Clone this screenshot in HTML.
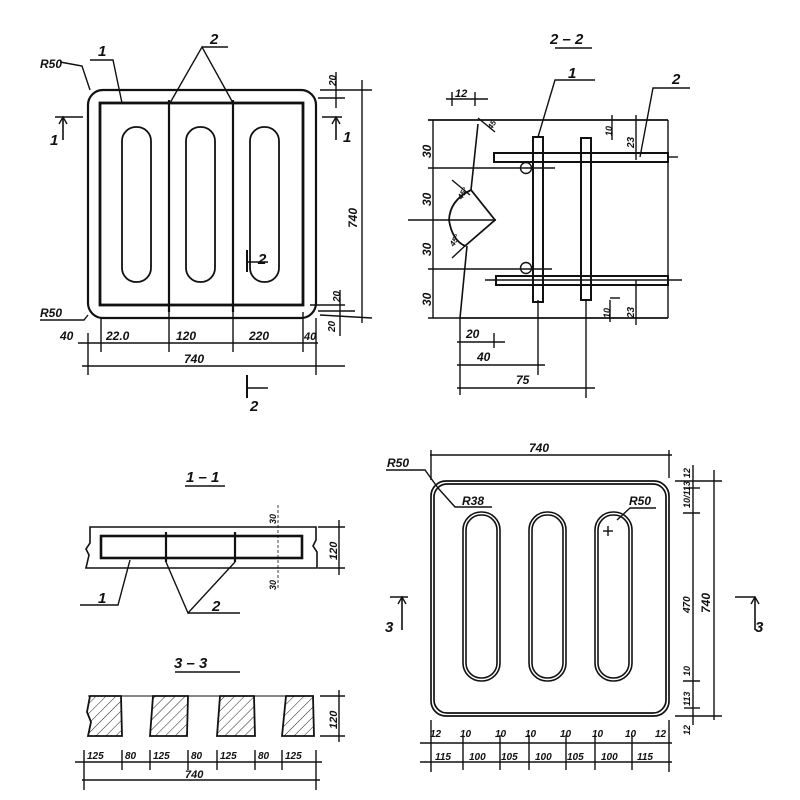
<!DOCTYPE html>
<html><head><meta charset="utf-8"><style>
html,body{margin:0;padding:0;background:#fff;}
svg{display:block}
text{font-family:"Liberation Sans",sans-serif;font-style:italic;font-weight:bold;fill:#111;}
</style></head><body>
<svg width="800" height="800" viewBox="0 0 800 800" xmlns="http://www.w3.org/2000/svg">
<defs>
<pattern id="h" width="7" height="7" patternUnits="userSpaceOnUse" patternTransform="rotate(45)">
<line x1="0" y1="0" x2="0" y2="7" stroke="#222" stroke-width="1"/>
</pattern>
</defs>
<g stroke="#111" fill="none" stroke-width="1.4">
<!-- ===== Top-left plan ===== -->
<rect x="88" y="90" width="228" height="228" rx="15" stroke-width="2.2"/>
<rect x="100" y="103" width="203" height="202" stroke-width="2.8"/>
<line x1="169" y1="100" x2="169" y2="312" stroke-width="2.2"/>
<line x1="233" y1="100" x2="233" y2="312" stroke-width="2.2"/>
<rect x="122" y="127" width="29" height="155" rx="14" stroke-width="1.8"/>
<rect x="186" y="127" width="29" height="155" rx="14" stroke-width="1.8"/>
<rect x="250" y="127" width="29" height="155" rx="14" stroke-width="1.8"/>
<polyline points="60,62 82,66 90,90"/>
<polyline points="90,60 113,60 122,103"/>
<polyline points="170,103 202,47 233,103"/>
<line x1="202" y1="47" x2="228" y2="47"/>
<polyline points="40,320 84,320 88,315"/>
<line x1="55" y1="117" x2="83" y2="117" stroke-width="1.6"/>
<line x1="63" y1="117" x2="63" y2="140" stroke-width="1.6"/>
<polyline points="59,124 63,117 67,124"/>
<line x1="322" y1="117" x2="342" y2="117" stroke-width="1.6"/>
<line x1="336" y1="117" x2="336" y2="140" stroke-width="1.6"/>
<polyline points="332,124 336,117 340,124"/>
<line x1="247" y1="250" x2="247" y2="272" stroke-width="2"/>
<line x1="247" y1="262" x2="268" y2="262"/>
<line x1="247" y1="375" x2="247" y2="398" stroke-width="2"/>
<line x1="247" y1="388" x2="268" y2="388"/>
<line x1="362" y1="80" x2="362" y2="323"/>
<line x1="320" y1="90" x2="372" y2="90"/>
<line x1="318" y1="98" x2="345" y2="98"/>
<line x1="336" y1="72" x2="336" y2="108"/>
<line x1="320" y1="315" x2="372" y2="318"/>
<line x1="310" y1="305" x2="345" y2="305"/>
<line x1="318" y1="311" x2="355" y2="311"/>
<line x1="340" y1="290" x2="340" y2="336"/>
<line x1="78" y1="343" x2="318" y2="343"/>
<line x1="88" y1="333" x2="88" y2="375"/>
<line x1="101" y1="318" x2="101" y2="352"/>
<line x1="169" y1="312" x2="169" y2="352"/>
<line x1="233" y1="312" x2="233" y2="352"/>
<line x1="303" y1="312" x2="303" y2="352"/>
<line x1="316" y1="318" x2="316" y2="375"/>
<line x1="82" y1="366" x2="345" y2="366"/>
<!-- ===== 2-2 section ===== -->
<line x1="555" y1="48" x2="592" y2="48"/>
<line x1="428" y1="120" x2="668" y2="120" stroke-width="1.8"/>
<line x1="460" y1="318" x2="668" y2="318" stroke-width="1.8"/>
<line x1="668" y1="120" x2="668" y2="318"/>
<polyline points="478,124 471,190" stroke-width="1.6"/>
<polyline points="467,246 460,318" stroke-width="1.6"/>
<path d="M471,190 Q450,200 449,220 Q452,240 465,246 L495,220 Z" stroke-width="1.8"/>
<line x1="408" y1="220" x2="496" y2="220"/>
<line x1="452" y1="180" x2="470" y2="195"/>
<line x1="452" y1="258" x2="467" y2="244"/>
<line x1="478" y1="118" x2="495" y2="132"/>
<line x1="446" y1="99" x2="488" y2="99"/>
<line x1="452" y1="92" x2="452" y2="106"/>
<line x1="475" y1="92" x2="475" y2="106"/>
<line x1="433" y1="120" x2="433" y2="318"/>
<line x1="428" y1="168" x2="555" y2="168"/>
<line x1="428" y1="269" x2="552" y2="269"/>
<line x1="428" y1="318" x2="460" y2="318"/>
<rect x="533" y="137" width="10" height="165" stroke-width="2"/>
<rect x="581" y="138" width="10" height="162" stroke-width="2"/>
<rect x="494" y="153" width="174" height="9" stroke-width="2"/>
<rect x="496" y="276" width="172" height="9" stroke-width="2"/>
<line x1="668" y1="157" x2="678" y2="157"/>
<line x1="485" y1="280" x2="682" y2="280"/>
<circle cx="526" cy="168" r="5.5"/>
<circle cx="526" cy="268" r="5.5"/>
<polyline points="538,137 555,80 595,80"/>
<polyline points="640,157 653,88 690,88"/>
<line x1="612" y1="115" x2="612" y2="140"/>
<line x1="636" y1="115" x2="636" y2="160"/>
<line x1="610" y1="298" x2="620" y2="298"/>
<line x1="636" y1="280" x2="636" y2="325"/>
<line x1="610" y1="300" x2="610" y2="322"/>
<line x1="460" y1="318" x2="460" y2="395"/>
<line x1="457" y1="342" x2="505" y2="342"/>
<line x1="494" y1="333" x2="494" y2="348"/>
<line x1="457" y1="365" x2="545" y2="365"/>
<line x1="538" y1="300" x2="538" y2="375"/>
<line x1="457" y1="388" x2="595" y2="388"/>
<line x1="586" y1="300" x2="586" y2="398"/>
<!-- ===== bottom-right plan ===== -->
<rect x="431" y="481" width="238" height="235" rx="15" stroke-width="1.7"/>
<rect x="434" y="484" width="232" height="229" rx="13" stroke-width="1.7"/>
<rect x="463" y="512" width="37" height="169" rx="18" stroke-width="1.6"/>
<rect x="466" y="515" width="31" height="163" rx="15" stroke-width="1.6"/>
<rect x="529" y="512" width="37" height="169" rx="18" stroke-width="1.6"/>
<rect x="532" y="515" width="31" height="163" rx="15" stroke-width="1.6"/>
<rect x="595" y="512" width="37" height="169" rx="18" stroke-width="1.6"/>
<rect x="598" y="515" width="31" height="163" rx="15" stroke-width="1.6"/>
<line x1="608" y1="526" x2="608" y2="536"/><line x1="603" y1="531" x2="613" y2="531"/>
<line x1="430" y1="455" x2="672" y2="455"/>
<line x1="431" y1="450" x2="431" y2="480"/>
<line x1="669" y1="450" x2="669" y2="478"/>
<polyline points="386,470 425,470 438,488"/>
<polyline points="438,488 455,507 492,507"/>
<polyline points="617,520 630,508 656,508"/>
<line x1="675" y1="481" x2="722" y2="481"/>
<line x1="675" y1="716" x2="722" y2="716"/>
<line x1="714" y1="470" x2="714" y2="720"/>
<line x1="693" y1="465" x2="693" y2="725"/>
<line x1="683" y1="513" x2="700" y2="513"/>
<line x1="683" y1="681" x2="700" y2="681"/>
<line x1="684" y1="488" x2="700" y2="488"/>
<line x1="684" y1="708" x2="700" y2="708"/>
<line x1="390" y1="597" x2="408" y2="597" stroke-width="1.6"/>
<line x1="402" y1="597" x2="402" y2="630" stroke-width="1.6"/>
<polyline points="398,604 402,597 406,604"/>
<line x1="735" y1="597" x2="755" y2="597" stroke-width="1.6"/>
<line x1="755" y1="597" x2="755" y2="630" stroke-width="1.6"/>
<polyline points="751,604 755,597 759,604"/>
<line x1="420" y1="743" x2="672" y2="743"/>
<line x1="420" y1="762" x2="672" y2="762"/>
<line x1="431" y1="720" x2="431" y2="772"/>
<line x1="463" y1="735" x2="463" y2="770"/>
<line x1="500" y1="735" x2="500" y2="770"/>
<line x1="529" y1="735" x2="529" y2="770"/>
<line x1="566" y1="735" x2="566" y2="770"/>
<line x1="595" y1="735" x2="595" y2="770"/>
<line x1="632" y1="735" x2="632" y2="770"/>
<line x1="669" y1="720" x2="669" y2="772"/>
<!-- ===== 1-1 ===== -->
<line x1="185" y1="486" x2="225" y2="486"/>
<path d="M90,527 L316,527 L316,540 L313,546 L317,552 L317,568 L86,568 L89,555 L86,549 L90,543 Z" stroke-width="1.6"/>
<rect x="101" y="536" width="201" height="22" stroke-width="2.6"/>
<line x1="166" y1="532" x2="166" y2="562" stroke-width="2.2"/>
<line x1="235" y1="532" x2="235" y2="562" stroke-width="2.2"/>
<polyline points="80,605 118,605 130,560"/>
<polyline points="166,562 188,613 235,562"/>
<line x1="188" y1="613" x2="240" y2="613"/>
<line x1="318" y1="527" x2="345" y2="527"/>
<line x1="318" y1="568" x2="345" y2="568"/>
<line x1="339" y1="520" x2="339" y2="575"/>
<line x1="278" y1="505" x2="278" y2="590" stroke-dasharray="3,2" stroke-width="0.8"/>
<!-- ===== 3-3 ===== -->
<line x1="175" y1="672" x2="240" y2="672"/>
<path d="M90,696 L121,696 L122,736 L88,736 L91,722 L87,712 Z" fill="url(#h)" stroke-width="1.8"/>
<path d="M153,696 L188,696 L187,736 L150,736 Z" fill="url(#h)" stroke-width="1.8"/>
<path d="M220,696 L254,696 L255,736 L217,736 Z" fill="url(#h)" stroke-width="1.8"/>
<path d="M286,696 L313,696 L314,736 L282,736 Z" fill="url(#h)" stroke-width="1.8"/>
<line x1="88" y1="696" x2="314" y2="696" stroke-width="1"/>
<line x1="320" y1="696" x2="345" y2="696"/>
<line x1="320" y1="736" x2="345" y2="736"/>
<line x1="339" y1="690" x2="339" y2="742"/>
<line x1="75" y1="762" x2="322" y2="762"/>
<line x1="82" y1="780" x2="320" y2="780"/>
<line x1="84" y1="750" x2="84" y2="790"/>
<line x1="122" y1="750" x2="122" y2="770"/>
<line x1="150" y1="750" x2="150" y2="770"/>
<line x1="188" y1="750" x2="188" y2="770"/>
<line x1="217" y1="750" x2="217" y2="770"/>
<line x1="255" y1="750" x2="255" y2="770"/>
<line x1="282" y1="750" x2="282" y2="770"/>
<line x1="316" y1="750" x2="316" y2="790"/>
</g>
<!-- ===== text ===== -->
<g font-size="12">
<text x="40" y="68" font-size="12">R50</text>
<text x="98" y="56" font-size="15">1</text>
<text x="210" y="44" font-size="15">2</text>
<text x="40" y="317" font-size="12">R50</text>
<text x="50" y="145" font-size="15">1</text>
<text x="343" y="142" font-size="15">1</text>
<text x="258" y="264" font-size="15">2</text>
<text x="250" y="411" font-size="15">2</text>
<text x="60" y="340" font-size="12">40</text>
<text x="106" y="340" font-size="12">22.0</text>
<text x="176" y="340" font-size="12">120</text>
<text x="249" y="340" font-size="12">220</text>
<text x="304" y="340" font-size="11">40</text>
<text x="184" y="363" font-size="12">740</text>
<text transform="translate(357,228) rotate(-90)" font-size="12">740</text>
<text transform="translate(336,86) rotate(-90)" font-size="10">20</text>
<text transform="translate(340,302) rotate(-90)" font-size="10">20</text>
<text transform="translate(335,332) rotate(-90)" font-size="10">20</text>
<text x="550" y="44" font-size="15">2 – 2</text>
<text x="568" y="78" font-size="15">1</text>
<text x="672" y="84" font-size="15">2</text>
<text x="455" y="97" font-size="11">12</text>
<text transform="translate(431,158) rotate(-90)" font-size="12">30</text>
<text transform="translate(431,206) rotate(-90)" font-size="12">30</text>
<text transform="translate(431,256) rotate(-90)" font-size="12">30</text>
<text transform="translate(431,306) rotate(-90)" font-size="12">30</text>
<text transform="translate(462,200) rotate(-60)" font-size="8">45°</text>
<text transform="translate(454,247) rotate(-60)" font-size="8">45°</text>
<text transform="translate(492,130) rotate(-60)" font-size="8">45</text>
<text transform="translate(612,136) rotate(-90)" font-size="9">10</text>
<text transform="translate(634,148) rotate(-90)" font-size="10">23</text>
<text transform="translate(610,318) rotate(-90)" font-size="9">10</text>
<text transform="translate(634,318) rotate(-90)" font-size="10">23</text>
<text x="466" y="338" font-size="12">20</text>
<text x="477" y="361" font-size="12">40</text>
<text x="516" y="384" font-size="12">75</text>
<text x="529" y="452" font-size="12">740</text>
<text x="387" y="467" font-size="12">R50</text>
<text x="462" y="505" font-size="12">R38</text>
<text x="629" y="505" font-size="12">R50</text>
<text x="385" y="632" font-size="15">3</text>
<text x="755" y="632" font-size="15">3</text>
<text transform="translate(690,478) rotate(-90)" font-size="9">12</text>
<text transform="translate(690,508) rotate(-90)" font-size="9">10/113</text>
<text transform="translate(690,613) rotate(-90)" font-size="10">470</text>
<text transform="translate(710,613) rotate(-90)" font-size="12">740</text>
<text transform="translate(690,676) rotate(-90)" font-size="9">10</text>
<text transform="translate(690,706) rotate(-90)" font-size="9">113</text>
<text transform="translate(690,735) rotate(-90)" font-size="9">12</text>
<g font-size="10">
<text x="430" y="737">12</text><text x="460" y="737">10</text><text x="495" y="737">10</text>
<text x="525" y="737">10</text><text x="560" y="737">10</text><text x="592" y="737">10</text>
<text x="625" y="737">10</text><text x="655" y="737">12</text>
<text x="435" y="760">115</text><text x="469" y="760">100</text><text x="501" y="760">105</text>
<text x="535" y="760">100</text><text x="567" y="760">105</text><text x="601" y="760">100</text>
<text x="637" y="760">115</text>
</g>
<text x="186" y="482" font-size="15">1 – 1</text>
<text x="98" y="603" font-size="15">1</text>
<text x="212" y="611" font-size="15">2</text>
<text transform="translate(276,524) rotate(-90)" font-size="9">30</text>
<text transform="translate(276,590) rotate(-90)" font-size="9">30</text>
<text transform="translate(337,560) rotate(-90)" font-size="11">120</text>
<text x="174" y="668" font-size="15">3 – 3</text>
<text transform="translate(337,729) rotate(-90)" font-size="11">120</text>
<g font-size="10">
<text x="87" y="759">125</text><text x="125" y="759">80</text><text x="153" y="759">125</text>
<text x="191" y="759">80</text><text x="220" y="759">125</text><text x="258" y="759">80</text>
<text x="285" y="759">125</text>
</g>
<text x="185" y="778" font-size="11">740</text>
</g>
</svg>
</body></html>
